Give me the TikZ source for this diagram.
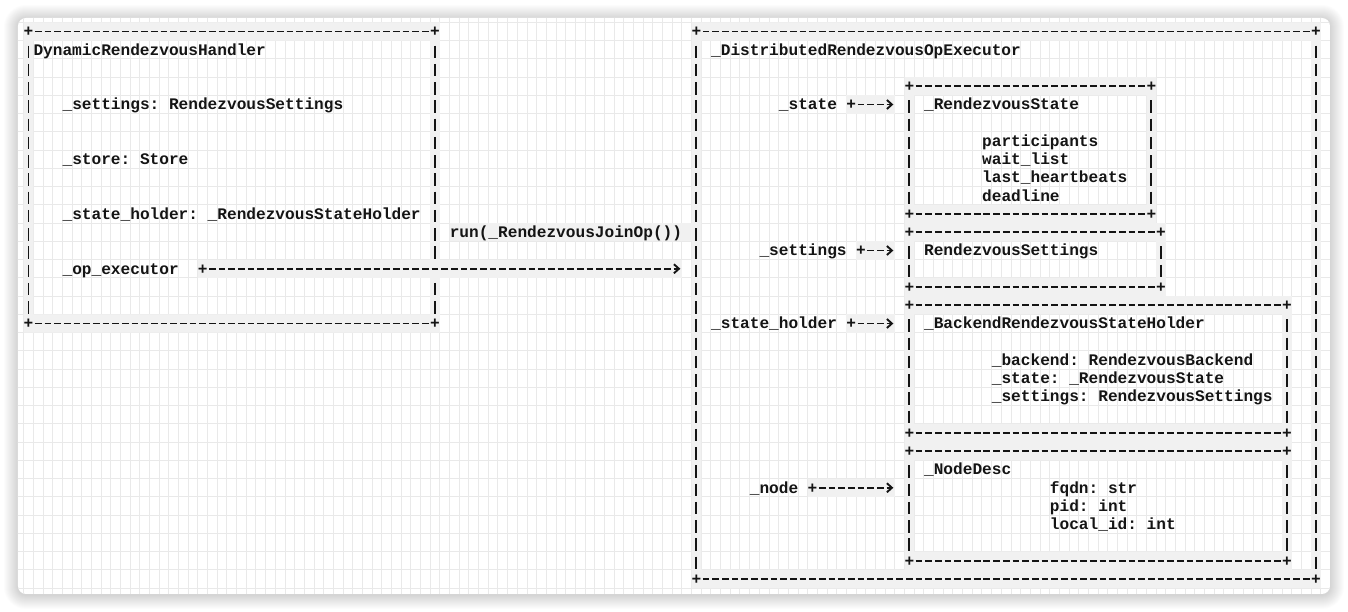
\documentclass[tikz,border=0pt]{standalone}
\usepackage{fontspec}
\setmonofont{Liberation Mono}
\usetikzlibrary{arrows.meta,fit}

\definecolor{gridgrey}{HTML}{E9E9E9}
\definecolor{bandgrey}{HTML}{F1F1F1}
\definecolor{ink}{HTML}{141414}

\tikzset{
  asciitext/.style={font={\ttfamily\bfseries\fontsize{16.13}{18.25}\selectfont}, text=ink, inner sep=0pt, anchor=base west},
  corner/.style={asciitext, anchor=base},
  gridline/.style={draw=gridgrey, line width=1pt},
  band/.style={fill=bandgrey},
  hdash/.style={draw=ink, line width=1.9pt, dash pattern=on 6.7pt off 2.98pt, dash phase=8.19pt},
  vdash/.style={draw=ink, line width=1.9pt, dash pattern=on 12.5pt off 5.75pt, dash phase=13.375pt},
  link/.style={hdash, -{Straight Barb[length=5pt,width=9pt]}, shorten <=4.84pt, shorten >=15.86pt}
}

% box of ascii dashes: name, col1, row1, col2, row2
\newcommand{\asciibox}[5]{%
  \fill[band, even odd rule] (#2-0.5,#3-0.5) rectangle (#4+0.5,#5+0.5) (#2+0.5,#3+0.5) rectangle (#4-0.5,#5-0.5);
  \coordinate (#1-nw) at (#2,#3);
  \coordinate (#1-se) at (#4,#5);
  \node[fit=(#1-nw)(#1-se), inner sep=0pt] (#1) {};
  \draw[hdash] (#2+0.5,#3) -- (#4-0.5,#3) (#2+0.5,#5) -- (#4-0.5,#5);
  \draw[vdash] (#2,#3+0.5) -- (#2,#5-0.5) (#4,#3+0.5) -- (#4,#5-0.5);
  \foreach \cc/\rr [count=\j] in {#2/#3,#4/#3,#2/#5,#4/#5}
    \node[corner] (#1-k\j) at (\cc,\rr+0.29) {+};
}

\begin{document}
\begin{tikzpicture}[x=9.68pt, y=-18.25pt]
\useasboundingbox (-2.944,-1.726) rectangle (136.312,31.808);

% Panel and shadow
\coordinate (pnw) at (-1.085,-0.74);
\coordinate (pse) at (134.45,30.82);
\foreach \s in {1,...,14} {
  \pgfmathsetmacro{\rad}{8+\s}
  \fill[black, opacity=0.013, rounded corners=\rad pt] ([xshift=-\s pt, yshift=\s pt-1pt]pnw) rectangle ([xshift=\s pt, yshift=-\s pt-1pt]pse);
}
\fill[white, rounded corners=8pt] (pnw) rectangle (pse);

% Grid
\begin{scope}
  \clip[rounded corners=8pt] (pnw) rectangle (pse);
  \foreach \k in {-2,...,134}
    \draw[gridline] (\k+0.5,-1.5) -- (\k+0.5,31.5);
  \foreach \k in {-2,...,31}
    \draw[gridline] (-2,\k+0.5) -- (135,\k+0.5);
\end{scope}

% Bands under the connectors
\fill[band] (17.5,12.5) rectangle (67.5,13.5);
\fill[band] (43.5,10.5) rectangle (68.5,11.5);
\fill[band] (84.5,3.5) rectangle (89.5,4.5);
\fill[band] (85.5,11.5) rectangle (89.5,12.5);
\fill[band] (84.5,15.5) rectangle (89.5,16.5);
\fill[band] (80.5,24.5) rectangle (89.5,25.5);

% Handler box (right side open where the call passes)
\fill[band, even odd rule] (-0.5,-0.5) rectangle (42.5,16.5) (0.5,0.5) rectangle (41.5,15.5);
\coordinate (handler-nw) at (0,0);
\coordinate (handler-se) at (42,16);
\node[fit=(handler-nw)(handler-se), inner sep=0pt] (handler) {};
\draw[hdash] (0.5,0) -- (41.5,0) (0.5,16) -- (41.5,16);
\draw[vdash] (0,0.5) -- (0,15.5) (42,0.5) -- (42,12.5) (42,13.5) -- (42,15.5);
\foreach \cc/\rr [count=\j] in {0/0,42/0,0/16,42/16}
  \node[corner] (handler-k\j) at (\cc,\rr+0.29) {+};

\node[asciitext] (hname) at (0.5,1.29) {DynamicRendezvousHandler};
\node[asciitext] (hset) at (3.5,4.29) {\_settings: RendezvousSettings};
\node[asciitext] (hstore) at (3.5,7.29) {\_store: Store};
\node[asciitext] (hholder) at (3.5,10.29) {\_state\_holder: \_RendezvousStateHolder};
\node[asciitext] (hexec) at (3.5,13.29) {\_op\_executor};
\node[corner] (pexec) at (18,13.29) {+};
\node[asciitext] (runlbl) at (43.5,11.29) {run(\_RendezvousJoinOp())};

% Executor box
\asciibox{exec}{69}{0}{133}{30}
\node[asciitext] (xname) at (70.5,1.29) {\_DistributedRendezvousOpExecutor};

% _RendezvousState
\asciibox{state}{91}{3}{116}{10}
\node[asciitext] (statetitle) at (92.5,4.29) {\_RendezvousState};
\foreach \f [count=\i from 6] in {participants, wait\_list, last\_heartbeats, deadline}
  \node[asciitext] (statef\i) at (98.5,\i+0.29) {\f};

% RendezvousSettings
\asciibox{settings}{91}{11}{117}{14}
\node[asciitext] (settingstitle) at (92.5,12.29) {RendezvousSettings};

% _BackendRendezvousStateHolder
\asciibox{holder}{91}{15}{130}{22}
\node[asciitext] (holdertitle) at (92.5,16.29) {\_BackendRendezvousStateHolder};
\foreach \f [count=\i from 18] in {\_backend: RendezvousBackend, \_state: \_RendezvousState, \_settings: RendezvousSettings}
  \node[asciitext] (holderf\i) at (99.5,\i+0.29) {\f};

% _NodeDesc
\asciibox{nodedesc}{91}{23}{130}{29}
\node[asciitext] (nodetitle) at (92.5,24.29) {\_NodeDesc};
\foreach \f [count=\i from 25] in {fqdn: str, pid: int, local\_id: int}
  \node[asciitext] (nodef\i) at (105.5,\i+0.29) {\f};

% Member labels
\node[asciitext] (xstate) at (77.5,4.29) {\_state};
\node[corner] (pstate) at (85,4.29) {+};
\node[asciitext] (xset) at (75.5,12.29) {\_settings};
\node[corner] (pset) at (86,12.29) {+};
\node[asciitext] (xholder) at (70.5,16.29) {\_state\_holder};
\node[corner] (pholder) at (85,16.29) {+};
\node[asciitext] (xnode) at (74.5,25.29) {\_node};
\node[corner] (pnode) at (81,25.29) {+};

% Connectors
\draw[link] (pexec.center |- 18,13) -- (exec.west |- 18,13);
\draw[link] (85,4) -- (state.west |- 85,4);
\draw[link] (86,12) -- (settings.west |- 86,12);
\draw[link] (85,16) -- (holder.west |- 85,16);
\draw[link] (81,25) -- (nodedesc.west |- 81,25);

\end{tikzpicture}
\end{document}
